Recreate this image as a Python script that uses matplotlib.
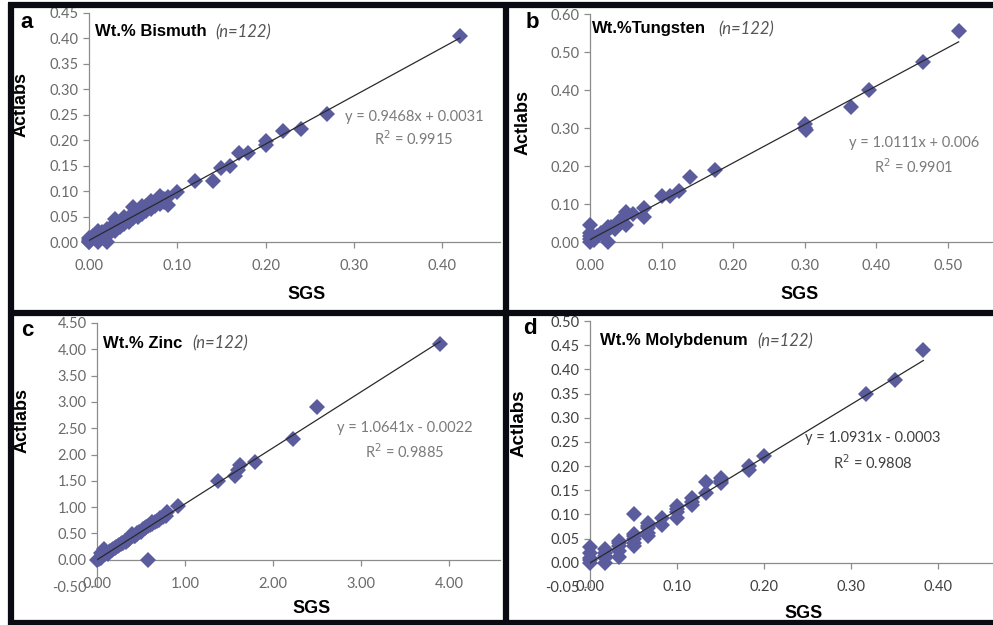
import numpy as np
import matplotlib
matplotlib.use('Agg')
import matplotlib.pyplot as plt
from matplotlib.ticker import FormatStrFormatter

plt.rcParams['font.family'] = ['Lato', 'DejaVu Sans']

W, H = 993, 625

# panel a - bismuth
bi_sgs = [0.42, 0.27, 0.24, 0.22, 0.20, 0.20, 0.18, 0.17,
          0.16, 0.15, 0.14, 0.12, 0.10, 0.09, 0.09, 0.085,
          0.08, 0.08, 0.075, 0.07, 0.07, 0.065, 0.06, 0.06,
          0.055, 0.05, 0.05, 0.05, 0.045, 0.04, 0.04, 0.035,
          0.03, 0.03, 0.03, 0.025, 0.02, 0.02, 0.02, 0.015,
          0.01, 0.01, 0.01, 0.005, 0.0, 0.0, 0.0, 0.0,
          0.065, 0.055, 0.045, 0.035, 0.025, 0.015, 0.075, 0.085]
bi_act = [0.405, 0.252, 0.222, 0.218, 0.198, 0.190, 0.175, 0.174,
          0.150, 0.145, 0.120, 0.120, 0.098, 0.088, 0.072, 0.085,
          0.090, 0.075, 0.070, 0.080, 0.065, 0.070, 0.070, 0.055,
          0.060, 0.068, 0.055, 0.048, 0.050, 0.050, 0.035, 0.040,
          0.045, 0.030, 0.022, 0.030, 0.025, 0.015, 0.000, 0.020,
          0.022, 0.010, 0.000, 0.012, 0.008, 0.004, 0.000, 0.000,
          0.060, 0.050, 0.040, 0.030, 0.020, 0.012, 0.078, 0.078]

# panel b - tungsten
w_sgs = [0.515, 0.465, 0.39, 0.365, 0.30, 0.30, 0.302, 0.175,
         0.14, 0.125, 0.112, 0.10, 0.075, 0.075, 0.06, 0.05,
         0.05, 0.045, 0.04, 0.035, 0.03, 0.025, 0.025, 0.02,
         0.015, 0.01, 0.005, 0.0, 0.0, 0.0, 0.0, 0.0]
w_act = [0.555, 0.475, 0.400, 0.355, 0.310, 0.300, 0.295, 0.190,
         0.170, 0.135, 0.120, 0.120, 0.090, 0.065, 0.075, 0.080,
         0.045, 0.060, 0.055, 0.035, 0.040, 0.040, 0.000, 0.020,
         0.025, 0.015, 0.005, 0.045, 0.025, 0.015, 0.008, 0.000]

# panel c - zinc
zn_sgs = [3.90, 2.50, 2.23, 1.80, 1.63, 1.60, 1.57, 1.38,
          0.92, 0.80, 0.75, 0.70, 0.66, 0.62, 0.58, 0.55,
          0.52, 0.48, 0.45, 0.42, 0.38, 0.35, 0.32, 0.30,
          0.27, 0.24, 0.20, 0.17, 0.14, 0.10, 0.08, 0.06,
          0.04, 0.02, 0.0, 0.58, 0.63, 0.40, 0.12, 0.05,
          0.78, 0.72, 0.68, 0.60, 0.56, 0.50, 0.46, 0.43,
          0.36, 0.33, 0.28, 0.25, 0.22, 0.18, 0.15, 0.09]
zn_act = [4.10, 2.90, 2.30, 1.85, 1.80, 1.70, 1.60, 1.50,
          1.03, 0.90, 0.82, 0.76, 0.72, 0.68, 0.65, 0.60,
          0.58, 0.52, 0.48, 0.46, 0.44, 0.38, 0.35, 0.32,
          0.30, 0.26, 0.22, 0.18, 0.15, 0.12, 0.20, 0.08,
          0.04, 0.02, 0.00, 0.00, 0.72, 0.48, 0.10, 0.12,
          0.84, 0.80, 0.74, 0.66, 0.62, 0.53, 0.50, 0.45,
          0.40, 0.34, 0.31, 0.27, 0.25, 0.21, 0.17, 0.10]

# panel d - molybdenum
mo_sgs = [0.383, 0.35, 0.317, 0.20, 0.183, 0.183, 0.15, 0.15,
          0.133, 0.133, 0.117, 0.117, 0.10, 0.10, 0.10, 0.083,
          0.083, 0.067, 0.067, 0.067, 0.067, 0.05, 0.05, 0.05,
          0.05, 0.05, 0.033, 0.033, 0.033, 0.033, 0.017, 0.017,
          0.017, 0.017, 0.0, 0.0, 0.0, 0.0, 0.15, 0.117,
          0.10, 0.067, 0.05, 0.033, 0.017, 0.0]
mo_act = [0.440, 0.378, 0.350, 0.220, 0.200, 0.192, 0.175, 0.165,
          0.168, 0.145, 0.133, 0.120, 0.117, 0.105, 0.092, 0.092,
          0.078, 0.082, 0.072, 0.062, 0.055, 0.100, 0.060, 0.050,
          0.042, 0.035, 0.045, 0.035, 0.025, 0.012, 0.028, 0.020,
          0.010, 0.000, 0.032, 0.020, 0.010, 0.000, 0.170, 0.125,
          0.112, 0.077, 0.055, 0.040, 0.015, 0.005]

letters = ['a', 'b', 'c', 'd']
elements = ['Wt.% Bismuth', 'Wt.%Tungsten', 'Wt.% Zinc', 'Wt.% Molybdenum']
slopes = [0.9468, 1.0111, 1.0641, 1.0931]
intercepts = [0.0031, 0.006, -0.0022, -0.0003]
eq_text = ['y = 0.9468x + 0.0031', 'y = 1.0111x + 0.006',
           'y = 1.0641x - 0.0022', 'y = 1.0931x - 0.0003']
r2_text = ['R$^2$ = 0.9915', 'R$^2$ = 0.9901', 'R$^2$ = 0.9885', 'R$^2$ = 0.9808']

xs = [bi_sgs, w_sgs, zn_sgs, mo_sgs]
ys = [bi_act, w_act, zn_act, mo_act]

# layout in pixels: left, right, top, bottom of plot area
boxes = [(89, 500, 13, 242), (590, 993, 14, 242),
         (97, 500, 323, 586), (590, 993, 321, 587)]
xlims = [(0, 0.4655), (0, 0.563), (0, 4.58), (0, 0.463)]
ylims = [(0, 0.45), (0, 0.60), (-0.5, 4.5), (-0.05, 0.50)]
xticks = [np.arange(0, 0.41, 0.1), np.arange(0, 0.51, 0.1),
          np.arange(0, 4.1, 1.0), np.arange(0, 0.41, 0.1)]
yticks = [np.arange(0, 0.451, 0.05), np.arange(0, 0.61, 0.1),
          np.arange(-0.5, 4.51, 0.5), np.arange(-0.05, 0.501, 0.05)]
ylab_pos = [(-0.1436, 0.60), (-0.144, 0.526), (-0.166, 0.631), (-0.154, 0.617)]
xlab_pos = [(0.53, -0.192), (0.521, -0.193), (0.533, -0.053), (0.529, -0.068)]
letter_pos = [(27, 23), (532, 22), (27, 331), (530, 329)]
title_pos = [(95, 215, 32), (592, 718, 29), (103, 192, 343), (600, 757, 341)]
eq_pos = [(414, 117, 139), (914, 143, 167), (405, 428, 452), (873, 438, 463)]

marker_col = '#5a5c9e'
fig = plt.figure(figsize=(W / 100, H / 100), dpi=100)

for i in range(4):
    l, r, t, b = boxes[i]
    ax = fig.add_axes([l / W, 1 - b / H, (r - l) / W, (b - t) / H])
    ax.set_facecolor('none')
    tick_col = '#404040' if i == 3 else '#6a6a6a'
    eq_col = '#404040' if i == 3 else '#7a7a7a'

    ax.plot(xs[i], ys[i], 'D', color=marker_col, markersize=8.5,
            markeredgewidth=0, clip_on=False, zorder=3)
    xx = np.array([0, max(xs[i])])
    ax.plot(xx, slopes[i] * xx + intercepts[i], color='#2a2a2a', lw=0.9, zorder=4)

    ax.set_xlim(*xlims[i])
    ax.set_ylim(*ylims[i])
    ax.set_xticks(xticks[i])
    ax.set_yticks(yticks[i])
    ax.xaxis.set_major_formatter(FormatStrFormatter('%.2f'))
    ax.yaxis.set_major_formatter(FormatStrFormatter('%.2f'))
    for s in ['top', 'right']:
        ax.spines[s].set_visible(False)
    for s in ['left', 'bottom']:
        ax.spines[s].set_color('#8c8c8c')
        ax.spines[s].set_linewidth(0.9)
    if ylims[i][0] < 0:
        ax.spines['bottom'].set_position(('data', 0))
    ax.tick_params(axis='both', colors='#8c8c8c', labelcolor=tick_col,
                   labelsize=10.5, length=4, width=0.9, direction='out')
    ax.tick_params(axis='x', pad=8.5)
    ax.tick_params(axis='y', pad=3.5)

    ax.set_ylabel('Actlabs', family='Liberation Sans', fontweight='bold',
                  fontsize=13.5 if i == 3 else 13)
    ax.yaxis.set_label_coords(*ylab_pos[i])
    ax.set_xlabel('SGS', family='Liberation Sans', fontweight='bold', fontsize=13)
    ax.xaxis.set_label_coords(*xlab_pos[i])

    lx, ly = letter_pos[i]
    fig.text(lx / W, 1 - ly / H, letters[i], family='Liberation Sans',
             fontweight='bold', fontsize=16, ha='center', va='center')
    tx, nx, ty = title_pos[i]
    fig.text(tx / W, 1 - ty / H, elements[i], family='Liberation Sans',
             fontweight='bold', fontsize=12, ha='left', va='center')
    fig.text(nx / W, 1 - ty / H, '(n=122)', style='italic', color='#555555',
             fontsize=12, ha='left', va='center')
    ex, ey1, ey2 = eq_pos[i]
    fig.text(ex / W, 1 - ey1 / H, eq_text[i], color=eq_col, fontsize=10.5,
             ha='center', va='center')
    fig.text(ex / W, 1 - ey2 / H, r2_text[i], color=eq_col, fontsize=10.5,
             ha='center', va='center')

# thick black frames around the panels
frame = dict(color='#0a0a12', lw=4.5, solid_capstyle='butt')
for y in [5, 313, 623]:
    fig.add_artist(plt.Line2D([8 / W, 1], [1 - y / H, 1 - y / H], **frame))
for x in [11, 506]:
    fig.add_artist(plt.Line2D([x / W, x / W], [1 - 3 / H, 1 - 625 / H], **frame))

plt.savefig('out.png', dpi=100)
